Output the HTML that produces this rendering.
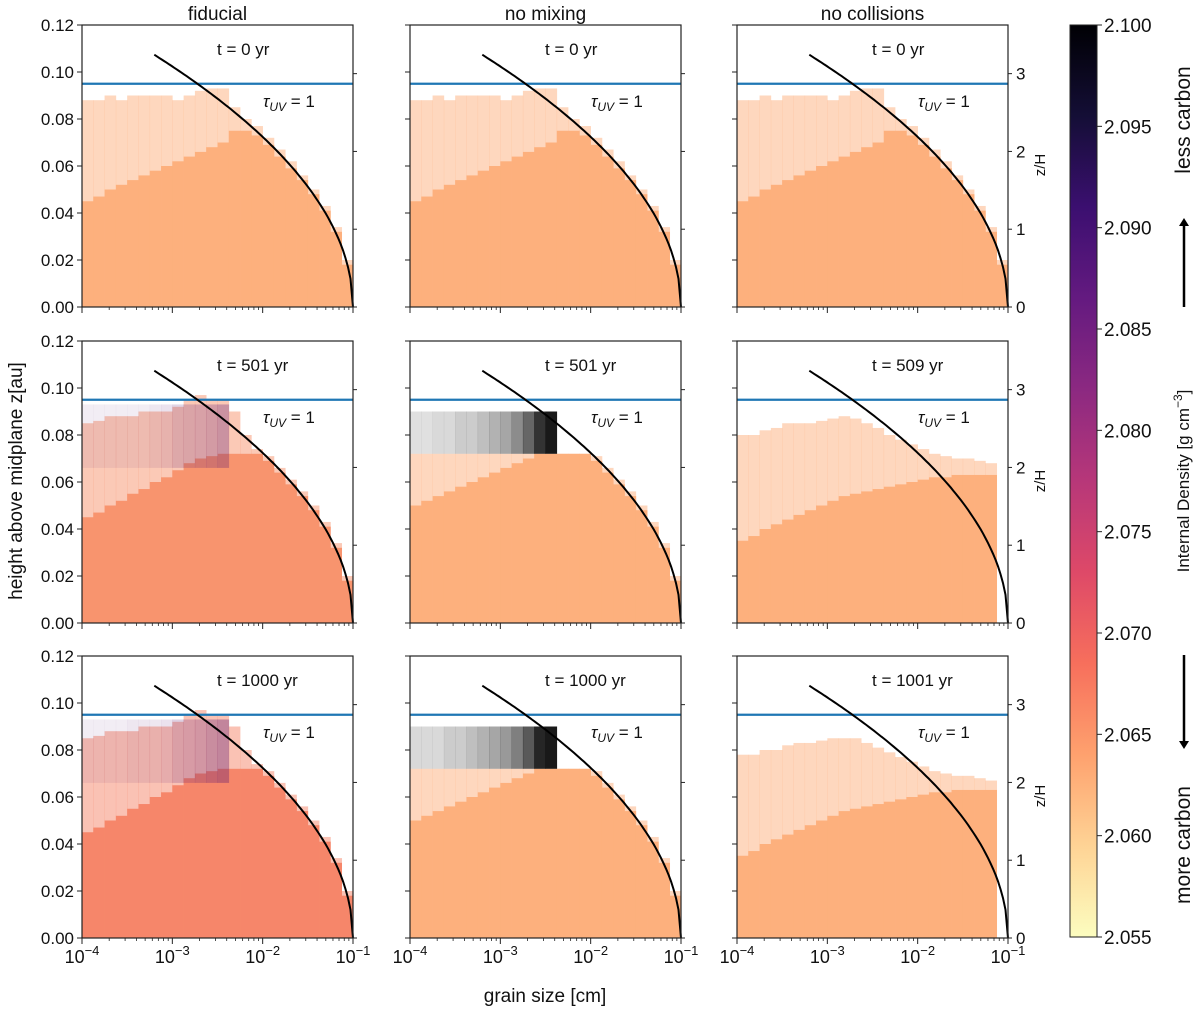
<!DOCTYPE html>
<html><head><meta charset="utf-8">
<style>
html,body{margin:0;padding:0;background:#fff;}
svg{display:block;font-family:"Liberation Sans","DejaVu Sans",sans-serif;}
</style></head>
<body>
<svg id="fig" width="1200" height="1013" viewBox="0 0 1200 1013" xmlns="http://www.w3.org/2000/svg">
<defs>
<linearGradient id="magma" x1="0" y1="1" x2="0" y2="0">
<stop offset="0" stop-color="#fcfdbf"/><stop offset="0.1" stop-color="#fed395"/>
<stop offset="0.2" stop-color="#fea16e"/><stop offset="0.3" stop-color="#f76f5c"/>
<stop offset="0.4" stop-color="#de4968"/><stop offset="0.5" stop-color="#b73779"/>
<stop offset="0.6" stop-color="#8c2981"/><stop offset="0.7" stop-color="#641a80"/>
<stop offset="0.8" stop-color="#3b0f70"/><stop offset="0.9" stop-color="#140e36"/>
<stop offset="1" stop-color="#000004"/>
</linearGradient>
<marker id="ah" markerWidth="8" markerHeight="10" refX="4" refY="5" orient="auto-start-reverse" markerUnits="userSpaceOnUse"><path d="M0,0 L8,5 L0,10 z" fill="#000"/></marker>
</defs>
<g id="panels"></g>
<g id="colorbar"></g>
</svg>
<script>
// ---- data (z in au, per grain-size bin; bins: log10 a from -4 to -1, 24 bins) ----
const colTitles = ["fiducial", "no mixing", "no collisions"];
const timeLabels = [["t = 0 yr","t = 0 yr","t = 0 yr"],["t = 501 yr","t = 501 yr","t = 509 yr"],["t = 1000 yr","t = 1000 yr","t = 1001 yr"]];
const yTicks = [0, 0.02, 0.04, 0.06, 0.08, 0.10, 0.12];
const yTickLabels = ["0.00","0.02","0.04","0.06","0.08","0.10","0.12"];
const zhTicks = [0, 1, 2, 3];
const xDecades = [-4, -3, -2, -1];
const cbTicks = [2.055, 2.060, 2.065, 2.070, 2.075, 2.080, 2.085, 2.090, 2.095, 2.100];
const tauUV = 0.095;
const scaleHeight = 0.0331;
const curveScale = 0.0477;
const curveStartLog = -3.2;

const solidT0 = [0.045,0.047,0.05,0.052,0.054,0.056,0.058,0.06,0.062,0.064,0.066,0.068,0.07,0.075,0.075,0.073,0.069,0.064,0.059,0.054,0.048,0.041,0.032,0.018];
const speckT0 = [0.088,0.088,0.09,0.088,0.09,0.09,0.09,0.09,0.088,0.09,0.092,0.093,0.093,0.085,0.08,0.077,0.072,0.067,0.062,0.056,0.05,0.043,0.034,0.02];

const solidFid = [0.045,0.047,0.05,0.052,0.055,0.057,0.06,0.062,0.065,0.068,0.07,0.071,0.072,0.072,0.072,0.072,0.069,0.064,0.059,0.054,0.048,0.041,0.032,0.018];
const speckFid = [0.085,0.086,0.088,0.088,0.088,0.09,0.09,0.09,0.092,0.095,0.097,0.095,0.095,0.09,0.08,0.074,0.071,0.066,0.061,0.056,0.05,0.043,0.034,0.02];
const bandFid501 = [0.08,0.08,0.08,0.08,0.08,0.08,0.1,0.12,0.18,0.2,0.22,0.25,0.3,0,0,0,0,0,0,0,0,0,0,0];
const bandFid1000 = [0.08,0.08,0.08,0.08,0.1,0.1,0.1,0.12,0.2,0.22,0.25,0.3,0.35,0,0,0,0,0,0,0,0,0,0,0];

const solidMix = [0.05,0.052,0.054,0.056,0.058,0.06,0.062,0.064,0.066,0.068,0.07,0.072,0.072,0.072,0.072,0.072,0.069,0.064,0.059,0.054,0.048,0.041,0.032,0.018];
const speckMix = [0.072,0.072,0.072,0.072,0.072,0.072,0.072,0.072,0.072,0.072,0.072,0.072,0.072,0.072,0.072,0.072,0.071,0.066,0.061,0.056,0.05,0.043,0.034,0.02];
const bandMix501 = [0.12,0.12,0.15,0.15,0.2,0.2,0.25,0.3,0.35,0.45,0.6,0.8,0.9,0,0,0,0,0,0,0,0,0,0,0];
const bandMix1000 = [0.15,0.15,0.15,0.2,0.2,0.25,0.3,0.35,0.4,0.5,0.65,0.85,0.9,0,0,0,0,0,0,0,0,0,0,0];

const solidCol = [0.035,0.037,0.04,0.042,0.044,0.046,0.048,0.05,0.052,0.054,0.055,0.056,0.057,0.058,0.059,0.06,0.061,0.062,0.062,0.063,0.063,0.063,0.063,0];
const speckCol509 = [0.08,0.08,0.082,0.083,0.085,0.085,0.085,0.086,0.087,0.088,0.087,0.085,0.083,0.08,0.078,0.076,0.074,0.072,0.071,0.07,0.07,0.069,0.068,0];
const speckCol1001 = [0.078,0.078,0.08,0.08,0.082,0.083,0.083,0.084,0.085,0.085,0.085,0.083,0.081,0.079,0.077,0.075,0.073,0.071,0.07,0.069,0.069,0.068,0.067,0];

const panelSolid = [[solidT0,solidT0,solidT0],[solidFid,solidMix,solidCol],[solidFid,solidMix,solidCol]];
const panelSpeck = [[speckT0,speckT0,speckT0],[speckFid,speckMix,speckCol509],[speckFid,speckMix,speckCol1001]];
const panelBand = [[null,null,null],[bandFid501,bandMix501,null],[bandFid1000,bandMix1000,null]];
const panelColor = [["#fdb07d","#fdb07d","#fdb07d"],["#f8946e","#fdb07d","#fdb07d"],["#f6866a","#fdb07d","#fdb07d"]];
const bandColor = ["#5a1470","#000000","#000000"];
const bandLo = [0.066, 0.072];
const bandHi = [0.093, 0.09];

// ---- layout ----
const lefts = [82, 410, 737], tops = [25, 341, 656], W = 271, H = 282;
const NS = "http://www.w3.org/2000/svg";
function mk(tag, attrs, parent){const e=document.createElementNS(NS,tag);for(const k in attrs)e.setAttribute(k,attrs[k]);parent.appendChild(e);return e;}
const root = document.getElementById("panels");

for (let r = 0; r < 3; r++) for (let c = 0; c < 3; c++) {
  const L = lefts[c], T = tops[r], B = T + H;
  const X = lg => L + (lg + 4) / 3 * W;
  const Y = z => B - z / 0.12 * H;
  const g = mk("g", {}, root);
  
  
  const nb = panelSolid[r][c].length, bw = 3 / nb;
  panelSpeck[r][c].forEach((z, i) => {
    if (z <= 0) return;
    const e = mk("rect", {x: X(-4 + i*bw), y: Y(z), width: W/nb + 0.3, height: Y(0) - Y(z), fill: panelColor[r][c], opacity: 0.5}, g);
    
    
  });
  panelSolid[r][c].forEach((z, i) => {
    if (z <= 0) return;
    const e = mk("rect", {x: X(-4 + i*bw), y: Y(z), width: W/nb + 0.3, height: Y(0) - Y(z), fill: panelColor[r][c]}, g);
    
    
  });
  const band = panelBand[r][c];
  if (band) {
    const lo = c === 0 ? bandLo[0] : bandLo[1], hi = c === 0 ? bandHi[0] : bandHi[1];
    band.forEach((d, i) => {
      if (d <= 0) return;
      const e = mk("rect", {x: X(-4 + i*bw), y: Y(hi), width: W/nb + 0.3, height: Y(lo) - Y(hi), fill: bandColor[c], opacity: d}, g);
      
      
    });
  }
  const tl = mk("line", {x1: L, x2: L + W, y1: Y(tauUV), y2: Y(tauUV), stroke: "#1f77b4", "stroke-width": 2.2}, g);
  
  
  let d = "";
  for (let k = 0; k <= 80; k++) {
    const lg = curveStartLog + (-1 - curveStartLog) * k / 80;
    const z = curveScale * Math.sqrt(Math.max(0, Math.log(0.1 / Math.pow(10, lg))));
    d += (k ? "L" : "M") + X(lg).toFixed(1) + "," + Y(z).toFixed(1);
  }
  const cv = mk("path", {d: d, fill: "none", stroke: "#000", "stroke-width": 2}, g);
  
  
  const fr = mk("rect", {x: L, y: T, width: W, height: H, fill: "none", stroke: "#222", "stroke-width": 1.2}, g);
  
  
  yTicks.forEach((v, i) => {
    mk("line", {x1: L - 5, x2: L, y1: Y(v), y2: Y(v), stroke: "#222", "stroke-width": 1}, g);
    if (c === 0) {
      const t = mk("text", {x: L - 8, y: Y(v) + 6, "text-anchor": "end", "font-size": 17, fill: "#111"}, g);
      t.textContent = yTickLabels[i];
      
      
    }
  });
  zhTicks.forEach(v => {
    const y = Y(v * scaleHeight);
    mk("line", {x1: L + W, x2: L + W + 4, y1: y, y2: y, stroke: "#222", "stroke-width": 1}, g);
    if (c === 2) {
      const t = mk("text", {x: L + W + 8, y: y + 6, "font-size": 17, fill: "#111"}, g);
      t.textContent = String(v);
      
      
    }
  });
  if (c === 2) {
    const t = mk("text", {transform: "translate(" + (L + W + 37) + "," + (T + 140) + ") rotate(-90)", "text-anchor": "middle", "font-size": 15, fill: "#111"}, g);
    t.textContent = "z/H";
    
    
  }
  xDecades.forEach((dcd, i) => {
    mk("line", {x1: X(dcd), x2: X(dcd), y1: B, y2: B + 6, stroke: "#222", "stroke-width": 1}, g);
    if (i < 3) for (let m = 2; m <= 9; m++) {
      const xm = X(dcd + Math.log10(m));
      mk("line", {x1: xm, x2: xm, y1: B, y2: B + 3, stroke: "#222", "stroke-width": 0.8}, g);
    }
    if (r === 2) {
      const t = mk("text", {x: X(dcd), y: B + 25, "text-anchor": "middle", "font-size": 18, fill: "#111"}, g);
      t.innerHTML = '10<tspan dy="-8" font-size="13">\u2212' + (-dcd) + '</tspan>';
      
      
    }
  });
  const tt = mk("text", {x: L + 135, y: T + 30, "font-size": 17, fill: "#111"}, g);
  tt.textContent = timeLabels[r][c];
  
  
  const ta = mk("text", {x: L + 181, y: T + 82, "font-size": 17, fill: "#111"}, g);
  ta.innerHTML = '<tspan font-style="italic">τ</tspan><tspan font-size="12" dy="4" font-style="italic">UV</tspan><tspan dy="-4"> = 1</tspan>';
  
  
  if (r === 0) {
    const ct = mk("text", {x: L + W/2, y: 20, "text-anchor": "middle", "font-size": 19, fill: "#111"}, g);
    ct.textContent = colTitles[c];
    
    
  }
}
const yt = mk("text", {transform: "translate(22,481) rotate(-90)", "text-anchor": "middle", "font-size": 19, fill: "#111"}, root);
yt.textContent = "height above midplane z[au]";


const xt = mk("text", {x: 545, y: 1002, "text-anchor": "middle", "font-size": 19, fill: "#111"}, root);
xt.textContent = "grain size [cm]";



const cb = document.getElementById("colorbar");
const cbL = 1070, cbT = 25, cbW = 27, cbH = 912;
const CY = v => cbT + cbH - (v - cbTicks[0]) / (cbTicks[cbTicks.length-1] - cbTicks[0]) * cbH;
const cbr = mk("rect", {x: cbL, y: cbT, width: cbW, height: cbH, fill: "url(#magma)", stroke: "#222", "stroke-width": 1}, cb);


cbTicks.forEach(v => {
  mk("line", {x1: cbL + cbW, x2: cbL + cbW + 5, y1: CY(v), y2: CY(v), stroke: "#222"}, cb);
  const t = mk("text", {x: cbL + cbW + 7, y: CY(v) + 7, "font-size": 19, fill: "#111"}, cb);
  t.textContent = v.toFixed(3);
  
  
});
const cbt = mk("text", {transform: "translate(1189,481) rotate(-90)", "text-anchor": "middle", "font-size": 17, fill: "#111"}, cb);
cbt.innerHTML = 'Internal Density [g cm<tspan dy="-7" font-size="12">\u22123</tspan><tspan dy="7">]</tspan>';


const lc = mk("text", {transform: "translate(1190,120) rotate(-90)", "text-anchor": "middle", "font-size": 21, fill: "#111"}, cb);
lc.textContent = "less carbon";


const mc = mk("text", {transform: "translate(1190,845) rotate(-90)", "text-anchor": "middle", "font-size": 21, fill: "#111"}, cb);
mc.textContent = "more carbon";


const a1 = mk("line", {x1: 1184, x2: 1184, y1: 307, y2: 222, stroke: "#000", "stroke-width": 2.5, "marker-end": "url(#ah)"}, cb);


const a2 = mk("line", {x1: 1184, x2: 1184, y1: 655, y2: 745, stroke: "#000", "stroke-width": 2.5, "marker-end": "url(#ah)"}, cb);


</script>
</body></html>
